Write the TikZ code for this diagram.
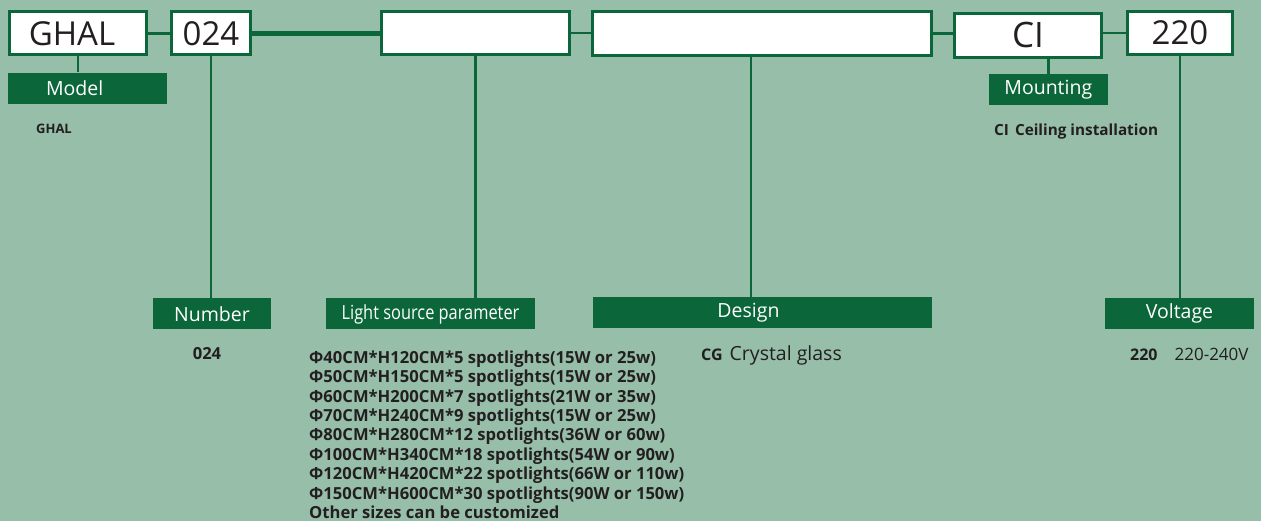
\documentclass[tikz,border=0pt]{standalone}
\usepackage{fontspec}
\setmainfont{Open Sans}
\newfontfamily\narrowfont[FakeStretch=0.84]{Open Sans}
\usetikzlibrary{positioning}
\definecolor{sage}{HTML}{96BEA9}
\definecolor{darkgreen}{HTML}{0B673A}
\definecolor{inkgrey}{HTML}{231F20}
\tikzstyle{codebox} = [rectangle, draw=darkgreen, line width=3pt, fill=white, minimum height=43pt, inner sep=0pt, text=inkgrey, font=\fontsize{33}{33}\selectfont]
\tikzstyle{tag} = [rectangle, fill=darkgreen, text=white, minimum height=31pt, inner sep=0pt, font=\fontsize{19.5}{19.5}\selectfont]
\tikzstyle{link} = [draw=darkgreen, line width=2.5pt]
\tikzstyle{note} = [text=inkgrey, inner sep=0pt, font=\bfseries\fontsize{16.6}{19.4}\selectfont, align=left]

\begin{document}
\begin{tikzpicture}[x=1pt, y=-1pt]
    % Background
    \fill[sage] (0,0) rectangle (1261,521);

    % Code boxes
    \node [codebox, minimum width=137pt] (ghal) at (78,33.5) {GHAL\kern12pt};
    \node [codebox, minimum width=79pt] (num) at (211,33.5) {024};
    \node [codebox, minimum width=188pt] (lsp) at (475.5,33) {};
    \node [codebox, minimum width=339pt, minimum height=44pt] (des) at (762,33.5) {};
    \node [codebox, minimum width=147pt, minimum height=44pt] (mnt) at (1028,35.5) {\fontsize{35}{35}\selectfont CI};
    \node [codebox, minimum width=105pt] (volt) at (1180,33) {220};

    % Tags
    \node [tag, minimum width=159pt, below=16pt of ghal.south west, anchor=north west] (model) {Model\kern26pt};
    \node [tag, minimum width=119pt, below=15pt of mnt.south east, anchor=north east, xshift=5pt] (mounting) {Mounting};
    \node [tag, minimum width=118pt] (number) at (212,314) {Number};
    \node [tag, minimum width=209pt] (lsplbl) at (430.5,314) {\narrowfont Light source parameter};
    \node [tag, minimum width=339pt] (design) at (762.5,312.5) {Design\kern28pt};
    \node [tag, minimum width=149pt] (voltage) at (1179.5,313.5) {Voltage};

    % Lines
    \draw [link] (ghal) -- (num);
    \draw [link, line width=5pt] (num.east) -- (num.east -| lsp.west);
    \draw [link] (lsp) -- (lsp -| des.west);
    \draw [link] (des.east) -- (des.east -| mnt.west);
    \draw [link] (volt.west) -- (volt.west -| mnt.east);
    \draw [link] (ghal.south) -- (ghal.south |- model.north);
    \draw [link] (num.south) -- (num.south |- number.north);
    \draw [link] (lsp.south) -- (lsp.south |- lsplbl.north);
    \path ([xshift=-11pt]des.south) coordinate (desfoot);
    \draw [link] (desfoot) -- (desfoot |- design.north);
    \draw [link] (mounting.north) -- (mounting.north |- mnt.south);
    \draw [link] (volt.south) -- (volt.south |- voltage.north);

    % Notes
    \node [note, font=\bfseries\fontsize{13}{13}\selectfont] (ghalnote) at (54,129) {GHAL};
    \node [note, anchor=north west, font=\bfseries\fontsize{15.3}{16}\selectfont] (ciNote) at (994,124) {CI\hspace{6pt}Ceiling installation};
    \node [note] (numnote) at (207,354) {024};
    \node [note, anchor=north west] (sizes) at (309,350.5) {%
        Φ40CM*H120CM*5 spotlights(15W or 25w)\\
        Φ50CM*H150CM*5 spotlights(15W or 25w)\\
        Φ60CM*H200CM*7 spotlights(21W or 35w)\\
        Φ70CM*H240CM*9 spotlights(15W or 25w)\\
        Φ80CM*H280CM*12 spotlights(36W or 60w)\\
        Φ100CM*H340CM*18 spotlights(54W or 90w)\\
        Φ120CM*H420CM*22 spotlights(66W or 110w)\\
        Φ150CM*H600CM*30 spotlights(90W or 150w)\\
        Other sizes can be customized};
    \node [note, anchor=base west, font=\fontsize{19.5}{19.5}\selectfont] (cgnote) at (701,360) {{\bfseries\fontsize{16}{16}\selectfont CG}\hspace{7pt}Crystal glass};
    \node [note, anchor=base west, font=\fontsize{17}{17}\selectfont] (voltnote) at (1130,360) {{\bfseries\fontsize{16}{16}\selectfont 220}\hspace{17pt}220-240V};
\end{tikzpicture}
\end{document}
